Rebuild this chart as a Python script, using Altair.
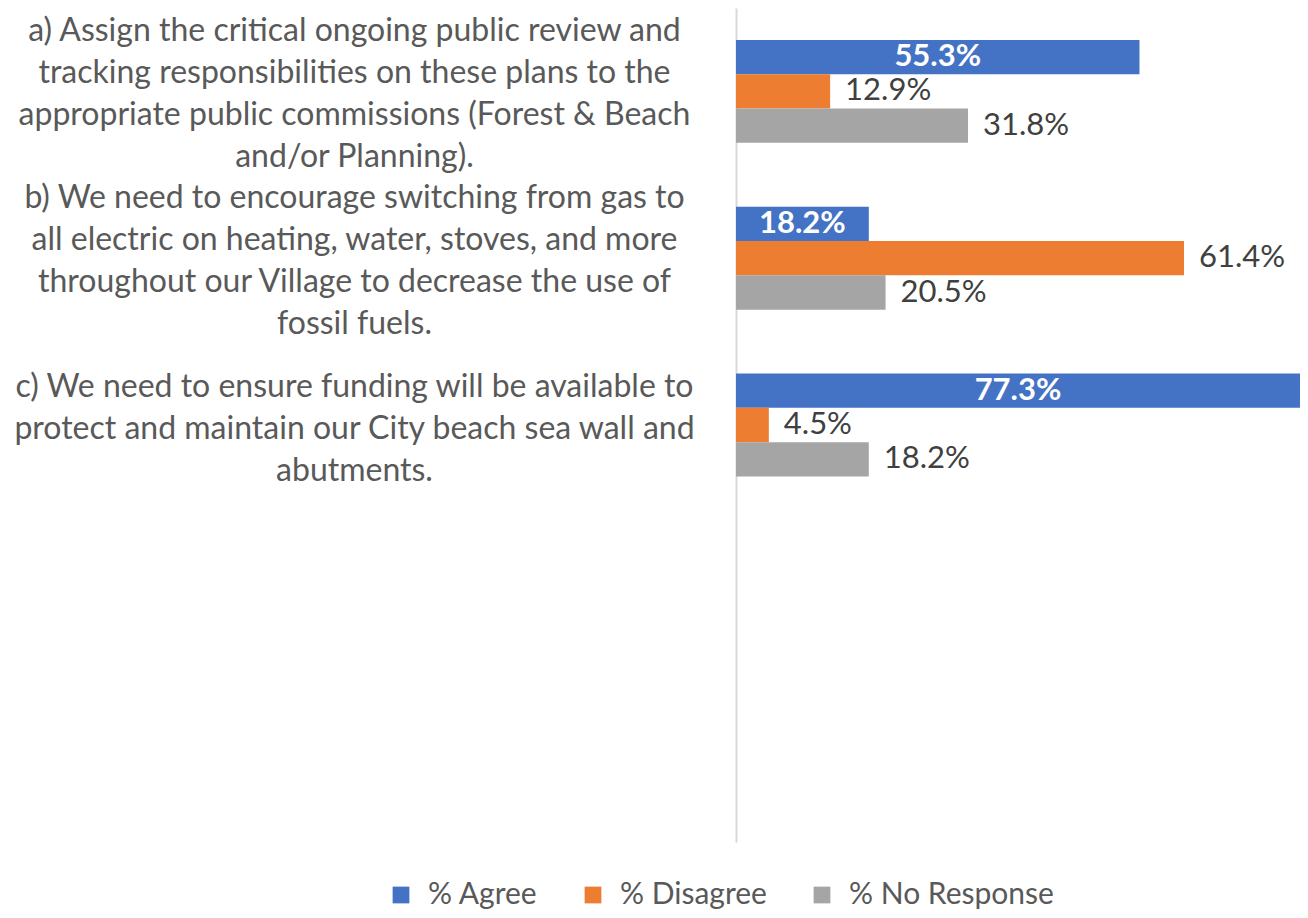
import altair as alt
import pandas as pd

categories = [
    "a) Assign the critical ongoing public review and|tracking responsibilities on these plans to the|appropriate public commissions (Forest & Beach|and/or Planning).",
    "b) We need to encourage switching from gas to|all electric on heating, water, stoves, and more|throughout our Village to decrease the use of|fossil fuels.",
    "c) We need to ensure funding will be available to|protect and maintain our City beach sea wall and|abutments.",
]
empty_slots = [" ", "  "]
series = ["% Agree", "% Disagree", "% No Response"]
agree = [55.3, 18.2, 77.3]
disagree = [12.9, 61.4, 4.5]
no_response = [31.8, 20.5, 18.2]
colors = ["#4472C4", "#ED7D31", "#A5A5A5"]

rows = []
for i, c in enumerate(categories):
    for s, vals in zip(series, [agree, disagree, no_response]):
        rows.append({"category": c, "series": s, "value": vals[i]})
df = pd.DataFrame(rows)

FONT = "Lato"

y = alt.Y(
    "category:N",
    scale=alt.Scale(domain=categories + empty_slots, paddingInner=0.383, paddingOuter=0.1915),
    axis=alt.Axis(
        title=None,
        labelExpr="split(datum.label, '|')",
        labelAlign="center",
        labelBaseline="middle",
        labelPadding=382,
        labelLimit=1000,
        labelFontSize=32,
        labelFont=FONT,
        labelColor="#595959",
        labelLineHeight=42,
        labelOffset=alt.condition(
            "length(split(datum.label, '|')) == 3", alt.value(-38), alt.value(-60)
        ),
        ticks=False,
        grid=False,
        domainColor="#D9D9D9",
        domainWidth=2,
    ),
)
yoff = alt.YOffset("series:N", scale=alt.Scale(domain=series, paddingInner=0, paddingOuter=0))
xscale = alt.Scale(domain=[0, 77.3], nice=False)

base = alt.Chart(df)

bars = base.mark_bar().encode(
    x=alt.X("value:Q", scale=xscale, axis=None),
    y=y,
    yOffset=yoff,
    color=alt.Color(
        "series:N",
        scale=alt.Scale(domain=series, range=colors),
        legend=alt.Legend(
            title=None,
            orient="none",
            direction="horizontal",
            legendX=-350,
            legendY=872,
            symbolType="square",
            symbolSize=280,
            symbolStrokeWidth=0,
            labelFontSize=30,
            labelFont=FONT,
            labelColor="#595959",
            labelOffset=12,
            labelLimit=400,
            columnPadding=40,
        ),
    ),
)

labels_out = (
    base.transform_filter(alt.datum.series != "% Agree")
    .transform_calculate(lbl="format(datum.value, '.1f') + '%'")
    .mark_text(align="left", baseline="middle", dx=15, fontSize=31, font=FONT, color="#404040")
    .encode(
        x=alt.X("value:Q", scale=xscale, axis=None),
        y=y,
        yOffset=yoff,
        text="lbl:N",
    )
)

labels_in = (
    base.transform_filter(alt.datum.series == "% Agree")
    .transform_calculate(lbl="format(datum.value, '.1f') + '%'", mid="datum.value / 2")
    .mark_text(align="center", baseline="middle", fontSize=31, font=FONT, fontWeight="bold", color="white")
    .encode(
        x=alt.X("mid:Q", scale=xscale, axis=None),
        y=y,
        yOffset=yoff,
        text="lbl:N",
    )
)

chart = (
    alt.layer(bars, labels_out, labels_in)
    .properties(
        width=564,
        height=834,
        padding={"left": 728, "top": 0, "right": 0, "bottom": 68},
        autosize=alt.AutoSizeParams(type="none"),
    )
    .configure_view(strokeWidth=0)
)

chart.save("out.html", embed_options={"renderer": "svg", "actions": False})
